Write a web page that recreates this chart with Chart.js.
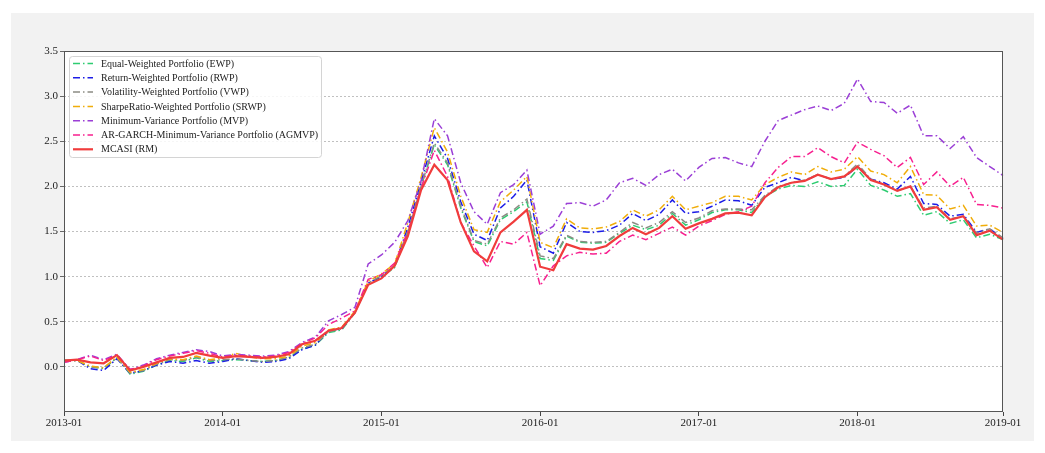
<!DOCTYPE html>
<html>
<head>
<meta charset="utf-8">
<script src="https://cdn.jsdelivr.net/npm/chart.js@4.4.0/dist/chart.umd.min.js"></script>
<style>
  html, body { margin: 0; padding: 0; background: #fff; }
  #panel { position: absolute; left: 11px; top: 13px; width: 1023px; height: 428px; background: #f2f2f2; }
  #chart { position: absolute; left: 0; top: 0; }
</style>
</head>
<body>
<div id="panel"></div>
<canvas id="chart" width="1045" height="453"></canvas>
<script>
// monthly observations, 2013-01 .. 2018-12
const months = [];
for (let y = 2013; y <= 2018; y++) {
    for (let m = 1; m <= 12; m++) months.push(y + '-' + String(m).padStart(2, '0'));
}

const xTickIndex = [0, 12, 24, 36, 48, 60, 71];
const xTickLabels = ['2013-01', '2014-01', '2015-01', '2016-01', '2017-01', '2018-01', '2019-01'];
const yTicks = [0, 0.5, 1, 1.5, 2, 2.5, 3, 3.5];

const ewp = [
    0.07, 0.07, 0.00, -0.02, 0.10, -0.08, -0.05, 0.02, 0.07, 0.06, 0.10, 0.06, 0.07,
    0.08, 0.07, 0.06, 0.07, 0.10, 0.20, 0.24, 0.38, 0.41, 0.60, 0.92, 1.00,
    1.10, 1.50, 2.00, 2.46, 2.24, 1.76, 1.39, 1.34, 1.63, 1.72, 1.83, 1.20,
    1.18, 1.45, 1.38, 1.37, 1.38, 1.48, 1.57, 1.52, 1.57, 1.70, 1.57, 1.63,
    1.71, 1.74, 1.74, 1.71, 1.89, 1.97, 2.01, 2.00, 2.05, 2.00, 2.01, 2.19,
    2.01, 1.96, 1.89, 1.92, 1.68, 1.72, 1.59, 1.63, 1.43, 1.47, 1.41
];
const rwp = [
    0.07, 0.07, -0.02, -0.04, 0.09, -0.07, -0.04, 0.02, 0.06, 0.04, 0.07, 0.04, 0.06,
    0.09, 0.07, 0.05, 0.06, 0.09, 0.19, 0.24, 0.40, 0.42, 0.61, 0.93, 1.00,
    1.12, 1.55, 2.05, 2.56, 2.31, 1.83, 1.47, 1.40, 1.76, 1.89, 2.07, 1.33,
    1.26, 1.60, 1.50, 1.49, 1.51, 1.57, 1.70, 1.62, 1.69, 1.85, 1.70, 1.72,
    1.78, 1.85, 1.84, 1.79, 1.99, 2.04, 2.10, 2.06, 2.13, 2.08, 2.10, 2.22,
    2.08, 2.04, 1.97, 2.11, 1.81, 1.80, 1.67, 1.69, 1.49, 1.53, 1.42
];
const vwp = [
    0.07, 0.07, 0.00, -0.01, 0.10, -0.07, -0.04, 0.03, 0.08, 0.07, 0.11, 0.07, 0.08,
    0.09, 0.07, 0.06, 0.07, 0.11, 0.21, 0.25, 0.39, 0.42, 0.60, 0.93, 1.01,
    1.12, 1.50, 2.00, 2.48, 2.26, 1.78, 1.40, 1.36, 1.65, 1.74, 1.86, 1.23,
    1.20, 1.46, 1.39, 1.38, 1.39, 1.49, 1.60, 1.54, 1.60, 1.72, 1.60, 1.65,
    1.73, 1.75, 1.75, 1.74, 1.90, 2.00, 2.04, 2.07, 2.13, 2.08, 2.11, 2.25,
    2.08, 2.02, 1.95, 2.00, 1.76, 1.78, 1.64, 1.67, 1.48, 1.53, 1.43
];
const srwp = [
    0.07, 0.07, 0.01, -0.01, 0.11, -0.06, -0.03, 0.04, 0.09, 0.08, 0.12, 0.08, 0.10,
    0.15, 0.11, 0.09, 0.09, 0.12, 0.23, 0.27, 0.41, 0.44, 0.62, 0.95, 1.03,
    1.14, 1.60, 2.10, 2.65, 2.38, 1.89, 1.52, 1.49, 1.83, 1.96, 2.11, 1.38,
    1.32, 1.64, 1.54, 1.53, 1.55, 1.61, 1.74, 1.67, 1.74, 1.89, 1.74, 1.78,
    1.82, 1.89, 1.89, 1.85, 2.02, 2.10, 2.16, 2.13, 2.22, 2.16, 2.19, 2.33,
    2.17, 2.13, 2.04, 2.22, 1.91, 1.90, 1.75, 1.79, 1.56, 1.57, 1.49
];
const mvp = [
    0.05, 0.08, 0.13, 0.08, 0.14, -0.03, 0.02, 0.09, 0.13, 0.16, 0.19, 0.17, 0.12,
    0.14, 0.13, 0.12, 0.13, 0.17, 0.27, 0.33, 0.51, 0.58, 0.66, 1.14, 1.24,
    1.38, 1.62, 2.06, 2.75, 2.56, 2.04, 1.72, 1.58, 1.93, 2.02, 2.18, 1.47,
    1.56, 1.81, 1.82, 1.78, 1.85, 2.04, 2.09, 2.01, 2.13, 2.19, 2.06, 2.21,
    2.31, 2.32, 2.26, 2.22, 2.50, 2.73, 2.79, 2.85, 2.89, 2.84, 2.92, 3.19,
    2.94, 2.93, 2.81, 2.90, 2.56, 2.56, 2.42, 2.55, 2.32, 2.22, 2.12
];
const agmvp = [
    0.05, 0.08, 0.12, 0.07, 0.13, -0.03, 0.01, 0.08, 0.12, 0.15, 0.18, 0.15, 0.11,
    0.13, 0.12, 0.11, 0.12, 0.16, 0.26, 0.32, 0.47, 0.54, 0.62, 0.97, 1.02,
    1.15, 1.50, 1.98, 2.40, 2.11, 1.60, 1.34, 1.10, 1.39, 1.36, 1.49, 0.90,
    1.12, 1.23, 1.27, 1.25, 1.26, 1.39, 1.46, 1.41, 1.48, 1.55, 1.46, 1.56,
    1.62, 1.69, 1.72, 1.78, 2.04, 2.21, 2.33, 2.33, 2.43, 2.33, 2.26, 2.49,
    2.41, 2.34, 2.21, 2.32, 2.02, 2.16, 2.00, 2.10, 1.80, 1.79, 1.76
];
const rm = [
    0.07, 0.08, 0.05, 0.04, 0.13, -0.04, 0.00, 0.05, 0.10, 0.11, 0.155, 0.125, 0.10,
    0.12, 0.11, 0.10, 0.11, 0.14, 0.25, 0.29, 0.40, 0.43, 0.60, 0.91, 0.98,
    1.12, 1.45, 1.96, 2.24, 2.07, 1.60, 1.28, 1.17, 1.49, 1.61, 1.74, 1.11,
    1.07, 1.36, 1.31, 1.30, 1.34, 1.45, 1.54, 1.47, 1.54, 1.67, 1.53, 1.59,
    1.64, 1.70, 1.71, 1.68, 1.88, 1.99, 2.04, 2.06, 2.13, 2.08, 2.11, 2.22,
    2.07, 2.02, 1.95, 2.00, 1.74, 1.77, 1.63, 1.67, 1.46, 1.51, 1.41
];

const series = [
    { label: 'Equal-Weighted Portfolio (EWP)', data: ewp, color: '#2ecc71', dashed: true },
    { label: 'Return-Weighted Portfolio (RWP)', data: rwp, color: '#1c1ce6', dashed: true },
    { label: 'Volatility-Weighted Portfolio (VWP)', data: vwp, color: '#8c8c84', dashed: true },
    { label: 'SharpeRatio-Weighted Portfolio (SRWP)', data: srwp, color: '#f0ad0a', dashed: true },
    { label: 'Minimum-Variance Portfolio (MVP)', data: mvp, color: '#9b3fd6', dashed: true },
    { label: 'AR-GARCH-Minimum-Variance Portfolio (AGMVP)', data: agmvp, color: '#f7208f', dashed: true },
    { label: 'MCASI (RM)', data: rm, color: '#f03c3c', dashed: false }
];

const FONT = '"Liberation Serif", "Times New Roman", serif';
Chart.defaults.font.family = FONT;
Chart.defaults.font.size = 11;
Chart.defaults.color = '#222';

// white plot area + dark frame, like the matplotlib axes
const frame = {
    id: 'frame',
    beforeDraw(chart) {
        const a = chart.chartArea, ctx = chart.ctx;
        ctx.save();
        ctx.fillStyle = '#fff';
        ctx.fillRect(a.left, a.top, a.right - a.left, a.bottom - a.top);
        ctx.restore();
    },
    afterDraw(chart) {
        const a = chart.chartArea, ctx = chart.ctx;
        ctx.save();
        ctx.strokeStyle = '#555';
        ctx.lineWidth = 1;
        ctx.strokeRect(a.left + 0.5, a.top + 0.5, a.right - a.left - 1, a.bottom - a.top - 1);
        ctx.restore();
    }
};

// legend box in the upper-left corner of the plot
const boxLegend = {
    id: 'boxLegend',
    afterDatasetsDraw(chart) {
        const ctx = chart.ctx, a = chart.chartArea;
        const x0 = a.left + 5, y0 = a.top + 5, w = 252, h = 101;
        ctx.save();
        ctx.fillStyle = 'rgba(255,255,255,0.85)';
        ctx.strokeStyle = '#d4d4d4';
        ctx.lineWidth = 1;
        ctx.beginPath();
        ctx.roundRect(x0 + 0.5, y0 + 0.5, w, h, 3);
        ctx.fill();
        ctx.stroke();
        ctx.font = '10px ' + FONT;
        ctx.textBaseline = 'middle';
        chart.data.datasets.forEach((ds, k) => {
            const yy = y0 + 7.5 + k * 14.3;
            ctx.strokeStyle = ds.borderColor;
            ctx.lineWidth = ds.borderWidth;
            ctx.setLineDash(ds.borderDash);
            ctx.beginPath();
            ctx.moveTo(x0 + 4, yy);
            ctx.lineTo(x0 + 24, yy);
            ctx.stroke();
            ctx.setLineDash([]);
            ctx.fillStyle = '#222';
            ctx.fillText(ds.label, x0 + 32, yy + 0.5);
        });
        ctx.restore();
    }
};

new Chart(document.getElementById('chart'), {
    type: 'line',
    data: {
        labels: months,
        datasets: series.map((s, k) => ({
            label: s.label,
            data: s.data,
            borderColor: s.color,
            borderWidth: s.dashed ? 1.5 : 2.2,
            borderDash: s.dashed ? [7, 3, 1.5, 3] : [],
            pointRadius: 0,
            tension: 0,
            fill: false,
            order: series.length - k
        }))
    },
    options: {
        responsive: false,
        animation: false,
        layout: { padding: { top: 51, right: 42, bottom: 0, left: 0 } },
        plugins: { legend: { display: false }, tooltip: { enabled: false } },
        scales: {
            x: {
                type: 'category',
                offset: false,
                afterFit: s => { s.height = 41; },
                afterBuildTicks: s => { s.ticks = xTickIndex.map(i => ({ value: i })); },
                ticks: {
                    autoSkip: false,
                    maxRotation: 0,
                    padding: 1,
                    callback: (v, i) => xTickLabels[i]
                },
                grid: { drawOnChartArea: false, drawTicks: true, tickLength: 4, tickColor: '#444' },
                border: { display: false }
            },
            y: {
                min: -0.5,
                max: 3.5,
                afterFit: s => { s.width = 64; },
                afterBuildTicks: s => { s.ticks = yTicks.map(v => ({ value: v })); },
                ticks: {
                    padding: 2,
                    callback: v => v.toFixed(1)
                },
                grid: {
                    color: '#b0b0b0',
                    lineWidth: 0.8,
                    tickLength: 4,
                    tickColor: '#444',
                    tickBorderDash: []
                },
                border: { display: false, dash: [2, 2] }
            }
        }
    },
    plugins: [frame, boxLegend]
});
</script>
</body>
</html>
